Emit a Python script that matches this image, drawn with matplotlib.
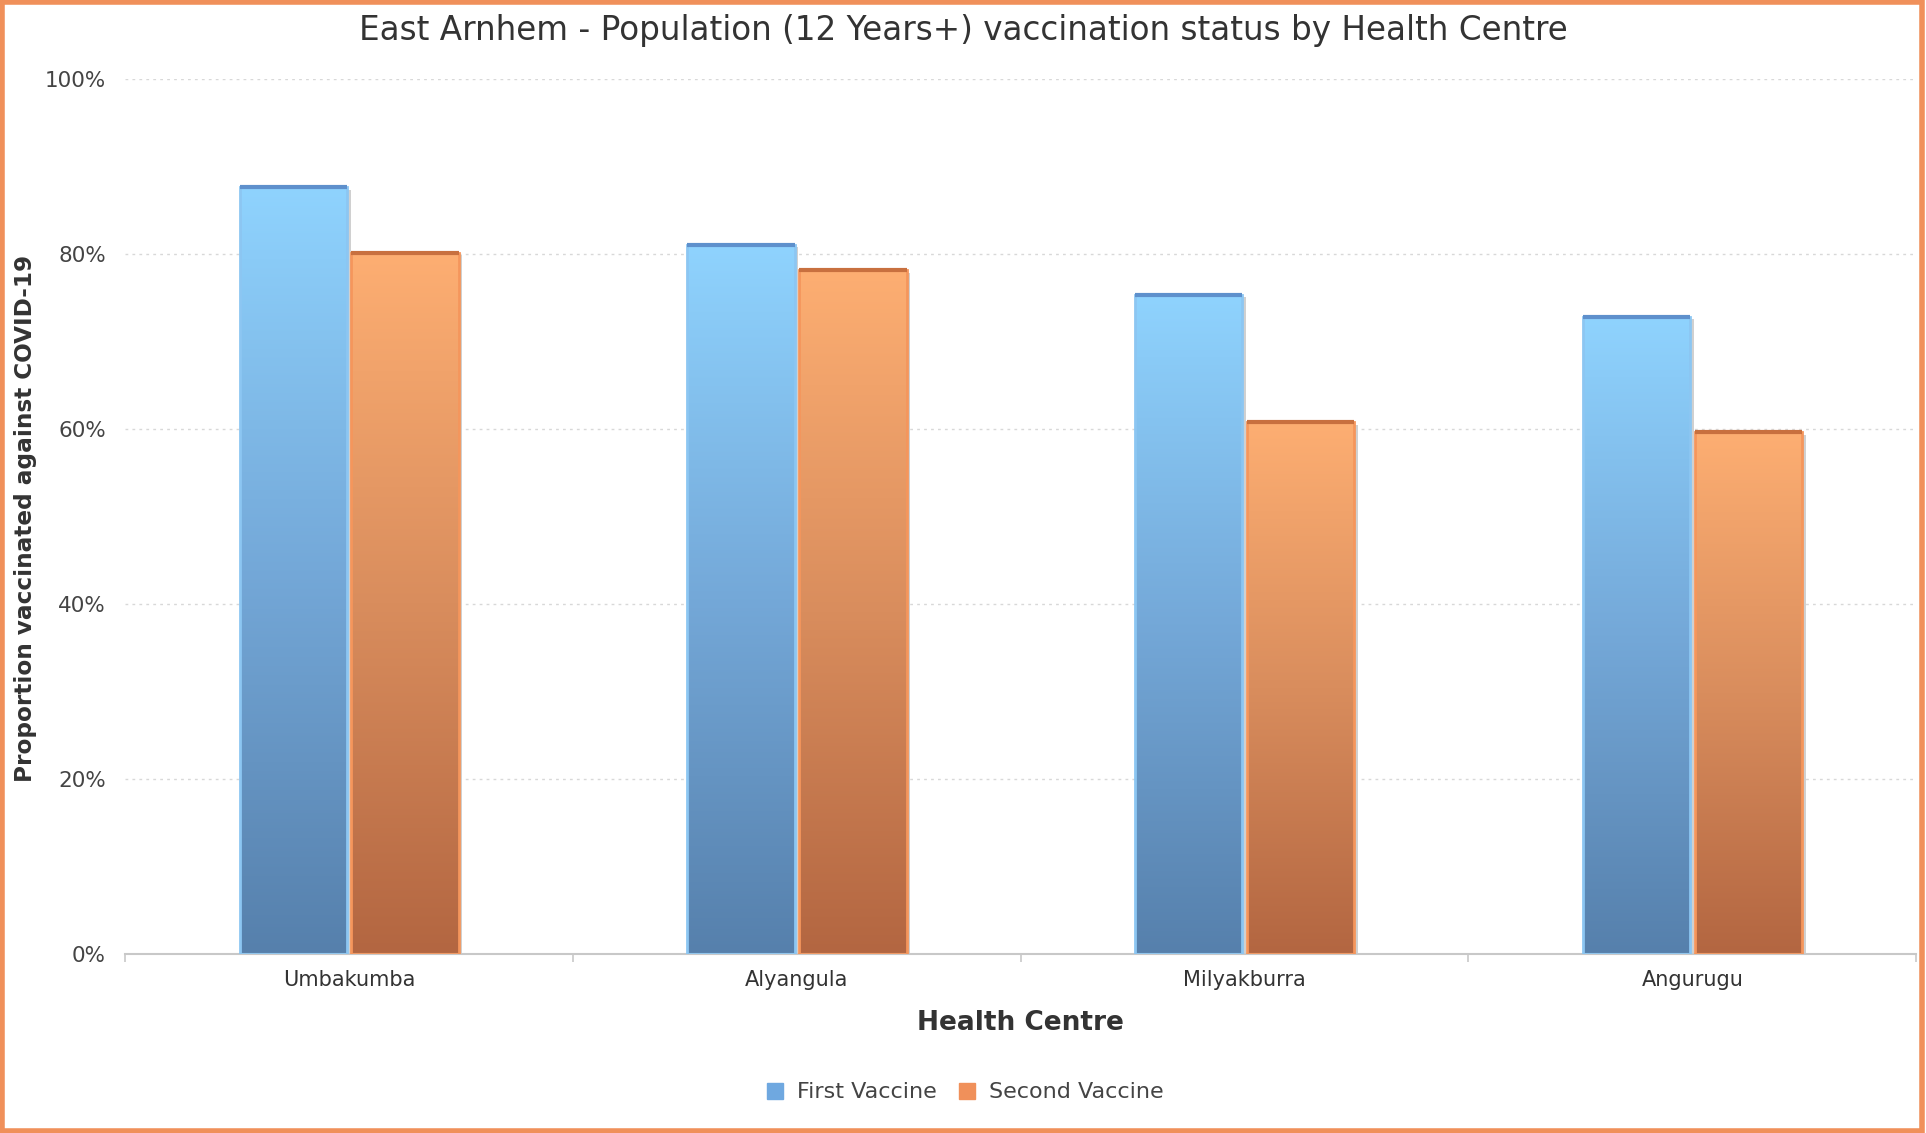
import matplotlib.pyplot as plt
import numpy as np
from matplotlib.colors import LinearSegmentedColormap
from matplotlib.patches import Rectangle
from matplotlib.ticker import FuncFormatter

# values (percent)
centres = ['Umbakumba', 'Alyangula', 'Milyakburra', 'Angurugu']
first_vaccine = [87.6, 81.0, 75.3, 72.8]
second_vaccine = [80.1, 78.1, 60.7, 59.6]
series_names = ['First Vaccine', 'Second Vaccine']

fig = plt.figure(figsize=(19.26, 11.33), dpi=100)
ax = fig.add_axes([0.0651, 0.1584, 0.9298, 0.7722])

x = np.arange(len(centres))
w = 0.24
gap = 0.005

blue_cmap = LinearSegmentedColormap.from_list('b', ['#5680AC', '#74A8D8', '#8FD3FE'])
orange_cmap = LinearSegmentedColormap.from_list('o', ['#B36641', '#D98D5D', '#FDAE72'])

grad = np.linspace(0, 1, 256).reshape(-1, 1)


def gradient_bars(bars, cmap, edge, topedge):
    for b in bars:
        x0, y0 = b.get_x(), b.get_y()
        bw, bh = b.get_width(), b.get_height()
        # soft shadow on the right
        ax.add_patch(Rectangle((x0 + bw, y0), 0.008, bh - 0.3, color='#d0d0d0',
                               zorder=1, lw=0))
        im = ax.imshow(grad, cmap=cmap, origin='lower', aspect='auto',
                       extent=[x0, x0 + bw, y0, y0 + bh], zorder=2)
        im.set_clip_path(b)
        b.set_facecolor('none')
        b.set_edgecolor(edge)
        b.set_linewidth(2)
        b.set_zorder(3)
        ax.plot([x0, x0 + bw], [y0 + bh, y0 + bh], color=topedge, lw=3,
                zorder=4, solid_capstyle='butt')


b1 = ax.bar(x - w / 2 - gap, first_vaccine, w)
b2 = ax.bar(x + w / 2 + gap, second_vaccine, w)
gradient_bars(b1, blue_cmap, '#8CC6F2', '#5E90CC')
gradient_bars(b2, orange_cmap, '#F5965C', '#C8703F')

ax.set_xlim(-0.5, len(centres) - 0.5)
ax.set_ylim(0, 100)
ax.set_yticks([0, 20, 40, 60, 80, 100])
ax.yaxis.set_major_formatter(FuncFormatter(lambda v, p: '%d%%' % v))
ax.grid(axis='y', color='#d8d8d8', linestyle=(0, (2, 3)), lw=1)
ax.set_axisbelow(True)

for s in ['top', 'right', 'left']:
    ax.spines[s].set_visible(False)
ax.spines['bottom'].set_color('#c8c8c8')
ax.spines['bottom'].set_linewidth(1.5)

ax.set_xticks(x)
ax.set_xticklabels(centres)
ax.set_xticks(np.arange(-0.5, len(centres)), minor=True)
ax.tick_params(axis='x', which='major', length=0, pad=12, labelsize=15, labelcolor='#333333')
ax.tick_params(axis='x', which='minor', length=6, color='#c8c8c8', width=1.2)
ax.tick_params(axis='y', length=0, pad=14, labelsize=15.5, labelcolor='#444444')

ax.set_xlabel('Health Centre', fontsize=19, fontweight='bold', color='#333333', labelpad=14)
fig.text(0.0134, 0.542, 'Proportion vaccinated against COVID-19', rotation=90,
         ha='center', va='center', fontsize=16.7, fontweight='bold', color='#333333')

fig.text(0.5, 0.973, 'East Arnhem - Population (12 Years+) vaccination status by Health Centre',
         ha='center', va='center', fontsize=23.5, color='#333333')

handles = [Rectangle((0, 0), 1, 1, color='#6FA8E0'), Rectangle((0, 0), 1, 1, color='#F0905A')]
fig.legend(handles, series_names, loc='center', bbox_to_anchor=(0.501, 0.0358), ncol=2,
           frameon=False, fontsize=16, handlelength=0.75, handleheight=0.75,
           columnspacing=1.0, handletextpad=0.6, labelcolor='#444444')

# orange frame around the whole chart
fig.patches.append(Rectangle((0.001, 0.002), 0.997, 0.996, transform=fig.transFigure,
                             fill=False, edgecolor='#F0905A', lw=4))

fig.savefig('out.png', dpi=100)
